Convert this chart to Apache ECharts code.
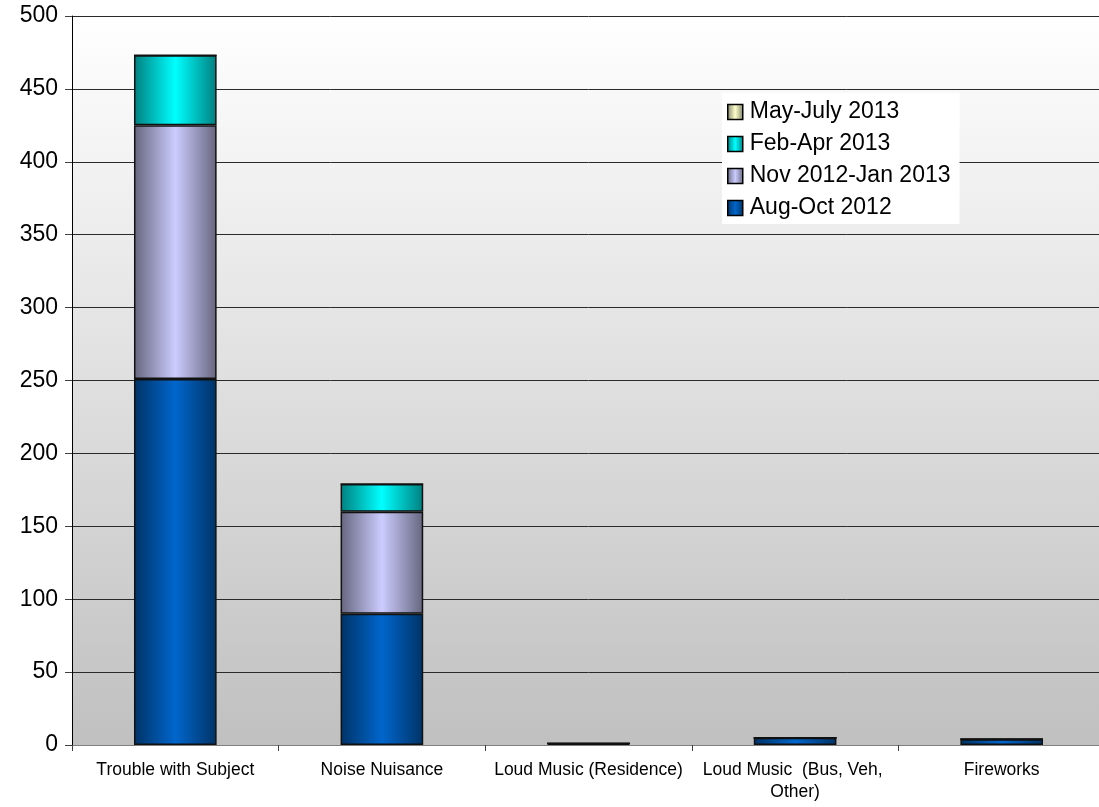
<!DOCTYPE html>
<html><head><meta charset="utf-8">
<script src="https://cdn.jsdelivr.net/npm/echarts@6/dist/echarts.min.js"></script>
<style>html,body{margin:0;padding:0;background:#fff;overflow:hidden;width:1099px;height:807px}#c{width:1107px;height:807px}</style>
</head><body><div id="c"></div>
<script>
const categories = ['Trouble with Subject', 'Noise Nuisance', 'Loud Music (Residence)', 'Loud Music  (Bus, Veh, Other)', 'Fireworks'];
const augOct2012 = [251, 90, 1, 5, 4];
const nov2012Jan2013 = [174, 70, 0, 0, 0];
const febApr2013 = [48, 19, 0, 0, 0];
const mayJul2013 = [0, 0, 0, 0, 0];
const seriesNames = ['Aug-Oct 2012', 'Nov 2012-Jan 2013', 'Feb-Apr 2013', 'May-July 2013'];
const yTicks = [0, 50, 100, 150, 200, 250, 300, 350, 400, 450, 500];

function grad(edge, center) {
  return new echarts.graphic.LinearGradient(0, 0, 1, 0, [
    {offset: 0, color: edge}, {offset: 0.5, color: center}, {offset: 1, color: edge}
  ]);
}
const colors = [grad('#003366', '#0066cc'), grad('#66667f', '#ccccff'), grad('#007f7f', '#00ffff'), grad('#80806a', '#ffffcc')];
const datasets = [augOct2012, nov2012Jan2013, febApr2013, mayJul2013];

const chart = echarts.init(document.getElementById('c'));
chart.setOption({
  animation: false,
  grid: {left: 72, right: 0, top: 16, bottom: 62, show: true, borderWidth: 0,
    backgroundColor: new echarts.graphic.LinearGradient(0, 0, 0, 1, [{offset: 0, color: '#ffffff'}, {offset: 1, color: '#c0c0c0'}])},
  legend: {
    data: seriesNames.slice().reverse(), orient: 'vertical', left: 722, top: 93,
    backgroundColor: '#ffffff', padding: [7, 9, 4, 5], itemGap: 8,
    itemWidth: 15, itemHeight: 15, icon: 'rect',
    textStyle: {fontFamily: 'Liberation Sans, Arial', fontSize: 23, lineHeight: 24, color: '#000', padding: [0, 0, 0, 2]},
    itemStyle: {borderColor: '#000', borderWidth: 1.5}
  },
  xAxis: {
    type: 'category', data: categories,
    axisLine: {lineStyle: {color: '#808080', width: 1}},
    axisTick: {show: true, length: 6, lineStyle: {color: '#404040'}},
    axisLabel: {fontFamily: 'Liberation Sans, Arial', fontSize: 17.5, color: '#000', margin: 14, width: 205, overflow: 'break', lineHeight: 22, interval: 0}
  },
  yAxis: {
    type: 'value', min: 0, max: 500, interval: 50,
    axisLine: {show: true, lineStyle: {color: '#000', width: 1}},
    axisTick: {show: true, length: 7, lineStyle: {color: '#404040'}},
    splitLine: {lineStyle: {color: '#2a2a2a', width: 1}},
    axisLabel: {fontFamily: 'Liberation Sans, Arial', fontSize: 23, color: '#000', margin: 14}
  },
  series: datasets.map((d, i) => ({
    name: seriesNames[i], type: 'bar', stack: 'all', data: d, barWidth: '40%',
    itemStyle: {color: colors[i], borderColor: '#111', borderWidth: 1.5}
  }))
});
</script></body></html>
